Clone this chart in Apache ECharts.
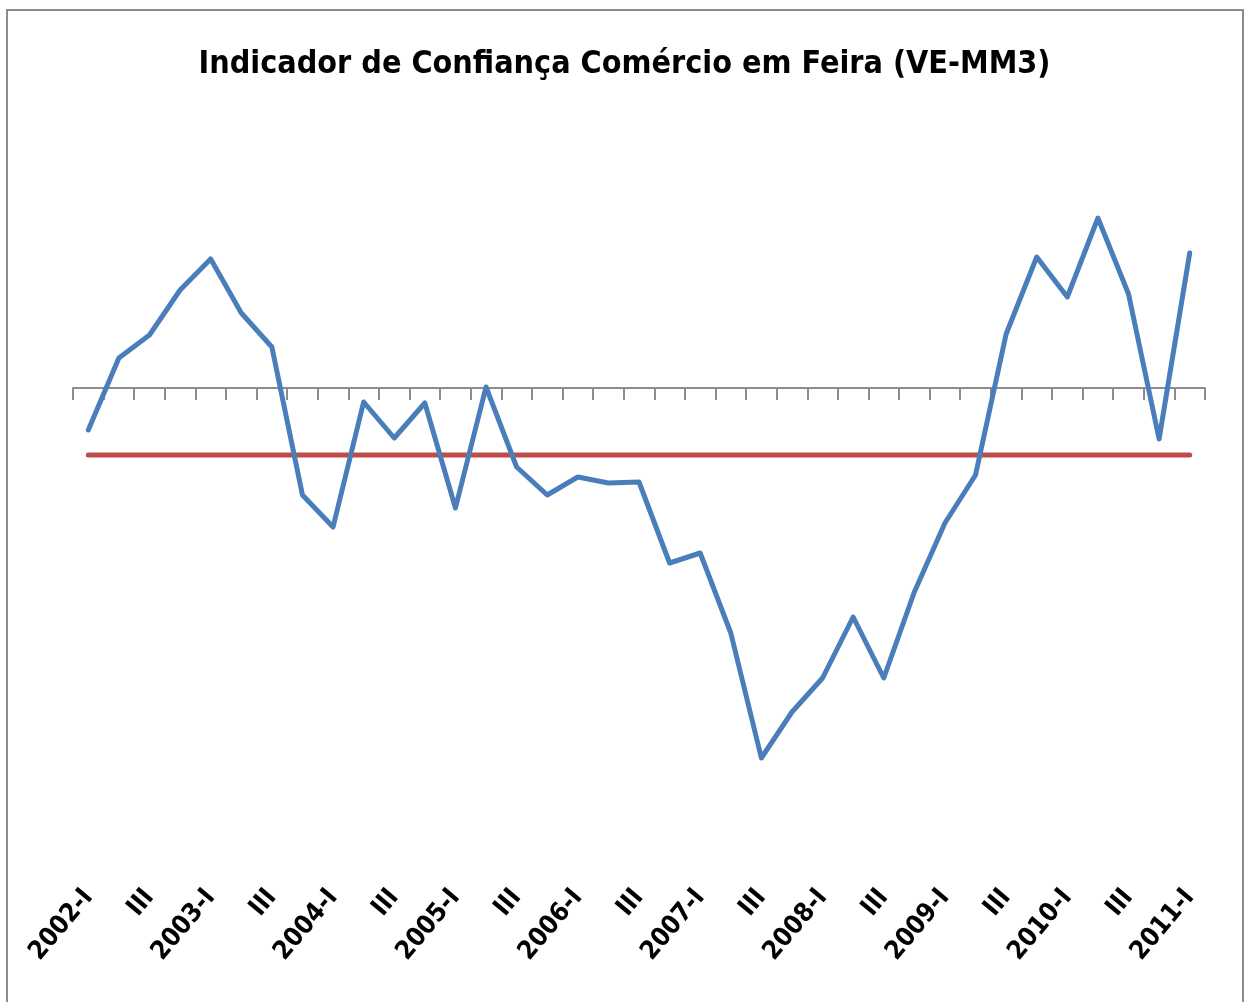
<!DOCTYPE html>
<html style="height: 100%">
   <head>
       <meta charset="utf-8">
   </head>
   <body style="height: 100%; margin: 0; background: #fff">
       <div id="container" style="width: 1249px; height: 1002px"></div>
       <script type="text/javascript" src="https://cdn.jsdelivr.net/npm/echarts@6/dist/echarts.min.js"></script>
       <script type="text/javascript">
// quarters 2002-I .. 2011-I
var quarters = [
    '2002-I', 'II', 'III', 'IV', '2003-I', 'II', 'III', 'IV',
    '2004-I', 'II', 'III', 'IV', '2005-I', 'II', 'III', 'IV',
    '2006-I', 'II', 'III', 'IV', '2007-I', 'II', 'III', 'IV',
    '2008-I', 'II', 'III', 'IV', '2009-I', 'II', 'III', 'IV',
    '2010-I', 'II', 'III', 'IV', '2011-I'
];
// indicador (VE-MM3)
var indicador = [
    -4.2, 3.0, 5.3, 9.8, 12.9, 7.5, 4.1, -10.7,
    -13.9, -1.4, -5.0, -1.5, -12.0, 0.1, -7.9, -10.7,
    -8.9, -9.5, -9.4, -17.5, -16.5, -24.5, -37.0, -32.4,
    -29.0, -22.9, -29.0, -20.4, -13.5, -8.7, 5.4, 13.1,
    9.1, 17.0, 9.4, -5.1, 13.5
];
// média do período
var media = [
    -6.7, -6.7, -6.7, -6.7, -6.7, -6.7, -6.7, -6.7,
    -6.7, -6.7, -6.7, -6.7, -6.7, -6.7, -6.7, -6.7,
    -6.7, -6.7, -6.7, -6.7, -6.7, -6.7, -6.7, -6.7,
    -6.7, -6.7, -6.7, -6.7, -6.7, -6.7, -6.7, -6.7,
    -6.7, -6.7, -6.7, -6.7, -6.7
];

var dom = document.getElementById("container");
var myChart = echarts.init(dom);
var fonte = '"DejaVu Sans Condensed", "Liberation Sans", sans-serif';

var option = {
    animation: false,
    backgroundColor: '#fff',
    graphic: [{
        type: 'rect',
        shape: { x: 7, y: 10, width: 1236, height: 1100 },
        style: { fill: 'none', stroke: '#8c8c8c', lineWidth: 2 },
        z: -1
    }],
    title: {
        text: 'Indicador de Confiança Comércio em Feira (VE-MM3)',
        left: 'center',
        top: 44,
        textStyle: {
            fontFamily: fonte,
            fontWeight: 'bold',
            fontSize: 32,
            color: '#000'
        }
    },
    grid: {
        left: 73,
        right: 44,
        top: 88,
        bottom: 124
    },
    xAxis: [{
        type: 'category',
        data: quarters,
        boundaryGap: true,
        axisLine: { onZero: true, lineStyle: { color: '#8c8c8c', width: 2 } },
        axisTick: { show: true, interval: 0, length: 12, lineStyle: { color: '#8c8c8c', width: 2 } },
        axisLabel: { show: false },
        splitLine: { show: false }
    }, {
        type: 'category',
        data: quarters,
        position: 'bottom',
        axisLine: { show: false, onZero: false },
        axisTick: { show: false },
        splitLine: { show: false },
        axisLabel: {
            interval: 1,
            rotate: 50,
            margin: 15,
            fontFamily: fonte,
            fontWeight: 'bold',
            fontSize: 26,
            color: '#000'
        }
    }],
    yAxis: {
        type: 'value',
        min: -49,
        max: 30,
        show: false,
        splitLine: { show: false }
    },
    series: [{
        name: 'Indicador',
        type: 'line',
        data: indicador,
        symbol: 'none',
        lineStyle: { color: '#4a7ebb', width: 5, cap: 'round', join: 'round' },
        z: 3
    }, {
        name: 'Média',
        type: 'line',
        data: media,
        symbol: 'none',
        lineStyle: { color: '#be4b48', width: 5, cap: 'round' },
        z: 2
    }]
};

myChart.setOption(option);
       </script>
   </body>
</html>
